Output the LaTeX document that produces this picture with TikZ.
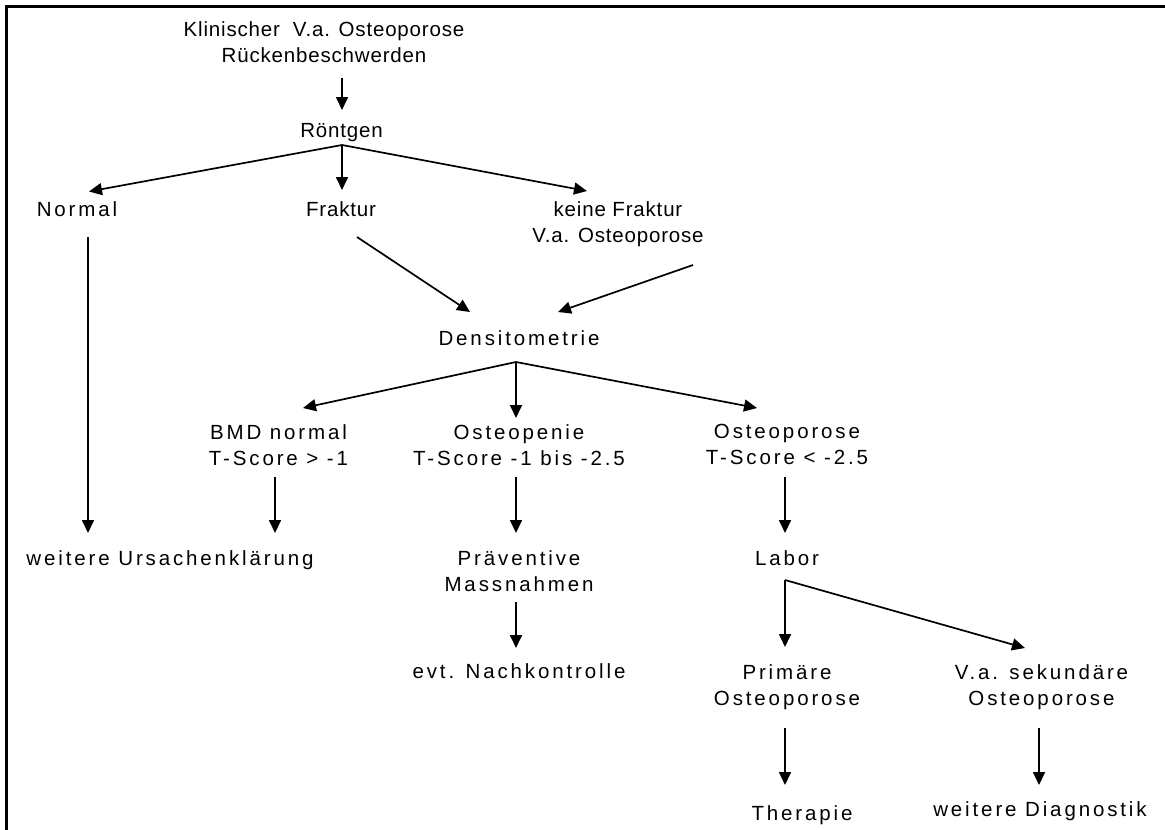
\documentclass[tikz,border=0pt]{standalone}
\usepackage{fontspec}
\usetikzlibrary{arrows.meta}
\newfontfamily\dfont[LetterSpace=14]{Liberation Sans}
\newfontfamily\tfont[LetterSpace=4]{Liberation Sans}
\tikzset{
  txt/.style={font=\dfont\fontsize{20.5}{26}\selectfont, align=center, inner sep=0pt, anchor=north},
  toptxt/.style={txt, font=\tfont\fontsize{20.5}{26}\selectfont},
  arr/.style={line width=1.7pt, -{Triangle[length=13pt,width=12pt]}},
  frameline/.style={line width=2.2pt}
}
\begin{document}
\begin{tikzpicture}[x=1pt,y=-1pt]
\useasboundingbox (0,0) rectangle (1165,830);
\draw[frameline] (6.5,830) -- (6.5,6.5) -- (1165,6.5);
% nodes: anchor north at (x, baseline1 - 18.2)
\node[toptxt] (klin) at (324,18) {\strut Klinischer\ \ V.a. Osteoporose\\\strut R\"uckenbeschwerden};
\node[toptxt] (roent) at (341.5,118.8) {\strut R\"ontgen};
\node[txt] (normal) at (77,198.5) {\strut Normal};
\node[toptxt] (fraktur) at (341,197.8) {\strut Fraktur};
\node[toptxt] (keine) at (618,197.8) {\strut keine Fraktur\\\strut V.a. Osteoporose};
\node[txt] (dens) at (519,327.5) {\strut Densitometrie};
\node[txt] (bmd) at (278.5,421) {\strut BMD normal\\\strut T-Score > -1};
\node[txt] (openie) at (519,421) {\strut Osteopenie\\\strut T-Score -1 bis -2.5};
\node[txt] (oporose) at (787,420) {\strut Osteoporose\\\strut T-Score < -2.5};
\node[txt] (ursache) at (170,546.8) {\strut weitere Ursachenkl\"arung};
\node[txt] (praev) at (519,546.8) {\strut Pr\"aventive\\\strut Massnahmen};
\node[txt] (labor) at (787,546.8) {\strut Labor};
\node[txt] (nachk) at (519,659.8) {\strut evt. Nachkontrolle};
\node[txt] (prim) at (787,660.8) {\strut Prim\"are\\\strut Osteoporose};
\node[txt] (sek) at (1041.5,660.8) {\strut V.a. sekund\"are\\\strut Osteoporose};
\node[txt] (ther) at (802,801.8) {\strut Therapie};
\node[txt] (diag) at (1040,797.8) {\strut weitere Diagnostik};
% ports
\coordinate (klinOut) at (342,78);
\coordinate (roentIn) at (342,110);
\coordinate (roentB) at (342,145);
\coordinate (normalIn) at (89,191.5);
\coordinate (frakturIn) at (342,190);
\coordinate (keineIn) at (587,191);
\coordinate (normalOut) at (88,237);
\coordinate (ursacheIn) at (88,533);
\coordinate (frakturOut) at (357,237);
\coordinate (densInL) at (470,312);
\coordinate (keineOut) at (693,265);
\coordinate (densInR) at (558,312);
\coordinate (densB) at (516,362);
\coordinate (bmdIn) at (303,408);
\coordinate (openieIn) at (516,418);
\coordinate (oporoseIn) at (757,408);
\coordinate (bmdOut) at (275,477);
\coordinate (ursacheIn2) at (275,533);
\coordinate (openieOut) at (516,477);
\coordinate (praevIn) at (516,533);
\coordinate (oporoseOut) at (785,477);
\coordinate (laborIn) at (785,533);
\coordinate (praevOut) at (516,602);
\coordinate (nachkIn) at (516,648);
\coordinate (laborB) at (785,580);
\coordinate (primIn) at (785,647);
\coordinate (sekIn) at (1025,648);
\coordinate (primOut) at (785,728);
\coordinate (therIn) at (785,785);
\coordinate (sekOut) at (1039,728);
\coordinate (diagIn) at (1039,785);
% connectors
\draw[arr] (klinOut) -- (roentIn);
\draw[arr] (roentB) -- (normalIn);
\draw[arr] (roentB) -- (frakturIn);
\draw[arr] (roentB) -- (keineIn);
\draw[arr] (normalOut) -- (ursacheIn);
\draw[arr] (frakturOut) -- (densInL);
\draw[arr] (keineOut) -- (densInR);
\draw[arr] (densB) -- (bmdIn);
\draw[arr] (densB) -- (openieIn);
\draw[arr] (densB) -- (oporoseIn);
\draw[arr] (bmdOut) -- (ursacheIn2);
\draw[arr] (openieOut) -- (praevIn);
\draw[arr] (oporoseOut) -- (laborIn);
\draw[arr] (praevOut) -- (nachkIn);
\draw[arr] (laborB) -- (primIn);
\draw[arr] (laborB) -- (sekIn);
\draw[arr] (primOut) -- (therIn);
\draw[arr] (sekOut) -- (diagIn);
\end{tikzpicture}
\end{document}
